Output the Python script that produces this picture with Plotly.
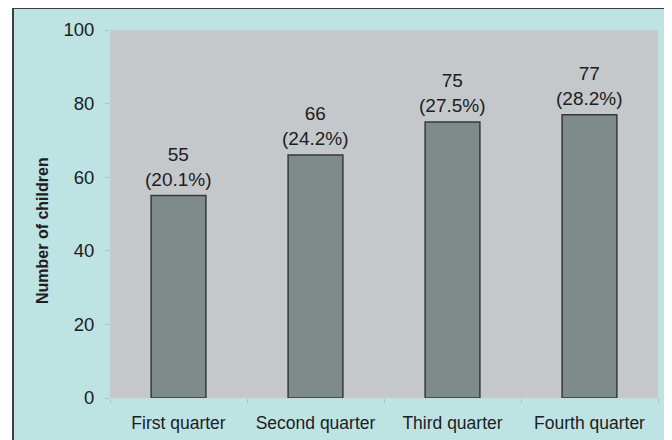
import plotly.graph_objects as go

categories = ["First quarter", "Second quarter", "Third quarter", "Fourth quarter"]
counts = [55, 66, 75, 77]
percents = ["20.1%", "24.2%", "27.5%", "28.2%"]
y_ticks = [0, 20, 40, 60, 80, 100]

# page body has an 8px margin; work in reference pixel coords and shift
OFF = 8
W, H = 672 - OFF, 440 - OFF
PL, PR, PT, PB = 110, 658, 30, 398  # plot area in reference pixels
L, R, T, B = PL - OFF, W - (PR - OFF), PT - OFF, H - (PB - OFF)
pw, ph = W - L - R, H - T - B

def px_x(px):
    return (px - OFF - L) / pw

def px_y(py):
    return (H - B - (py - OFF)) / ph

FONT = "Arial, Liberation Sans, sans-serif"
TXT = "#1c2023"

fig = go.Figure()
fig.add_trace(go.Bar(
    x=categories, y=counts, width=0.4,
    marker=dict(color="#7f8a8a", line=dict(color="#343a3a", width=1.5)),
    hoverinfo="skip",
))

annotations = []
for c, v, p in zip(categories, counts, percents):
    annotations.append(dict(
        x=c, y=v, xref="x", yref="y", text=f"{v}<br>({p})",
        showarrow=False, yanchor="bottom", yshift=4,
        font=dict(family=FONT, size=19, color=TXT),
    ))
annotations.append(dict(
    x=px_x(42), y=px_y(231), xref="paper", yref="paper",
    xanchor="center", yanchor="middle",
    text="<b>Number of children</b>", textangle=-90, showarrow=False,
    font=dict(family=FONT, size=16, color=TXT),
))

shapes = [
    dict(type="rect", xref="paper", yref="paper",
         x0=px_x(13), x1=px_x(700), y0=px_y(470), y1=px_y(8),
         fillcolor="#bee3e3", line=dict(color="#3c4044", width=2), layer="below"),
    dict(type="rect", xref="paper", yref="paper",
         x0=0, x1=1, y0=0, y1=1,
         fillcolor="#c5c8cb", line=dict(color="#cdd0d2", width=1), layer="below"),
]

fig.update_layout(
    width=W, height=H,
    margin=dict(l=L, r=R, t=T, b=B, pad=0, autoexpand=False),
    paper_bgcolor="white",
    plot_bgcolor="rgba(0,0,0,0)",
    showlegend=False,
    annotations=annotations,
    shapes=shapes,
    font=dict(family=FONT, color=TXT),
)
fig.update_xaxes(
    type="category", showgrid=False, zeroline=False, showline=False,
    automargin=False,
    ticks="outside", ticklen=4, tickcolor="#a9c2c2", tickson="boundaries",
    ticklabelstandoff=12,
    tickfont=dict(family=FONT, size=17.5, color=TXT),
)
fig.update_yaxes(
    range=[0, 100], tickvals=y_ticks, showgrid=False, zeroline=False,
    automargin=False,
    showline=False, ticks="outside", ticklen=4, tickcolor="#a9c2c2",
    ticklabelstandoff=7,
    tickfont=dict(family=FONT, size=18.5, color=TXT),
)

fig.write_html("out.html")
